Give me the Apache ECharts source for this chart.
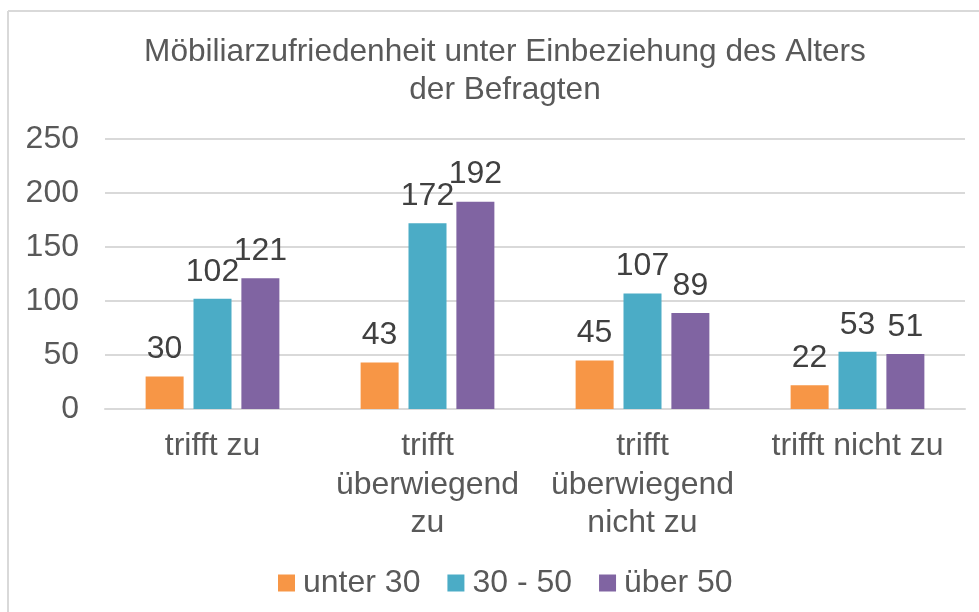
<!DOCTYPE html>
<html>
<head>
<meta charset="utf-8">
<script src="https://cdn.jsdelivr.net/npm/echarts@6/dist/echarts.min.js"></script>
<style>
  html, body { margin: 0; padding: 0; background: #ffffff; }
  #chart { width: 979px; height: 612px; }
</style>
</head>
<body>
<div id="chart"></div>
<script>
// Chart data
const titleText = 'Möbiliarzufriedenheit unter Einbeziehung des Alters\nder Befragten';
const categories = ['trifft zu', 'trifft\nüberwiegend\nzu', 'trifft\nüberwiegend\nnicht zu', 'trifft nicht zu'];
const seriesNames = ['unter 30', '30 - 50', 'über 50'];
const unter30 = [30, 43, 45, 22];
const mittel30bis50 = [102, 172, 107, 53];
const ueber50 = [121, 192, 89, 51];
const colors = ['#F79646', '#4BACC6', '#8064A2'];

const font = '"Liberation Sans", Arial, sans-serif';
const textGrey = '#595959';
const fs = 32;

function barSeries(name, data, color) {
  return {
    name: name,
    type: 'bar',
    data: data,
    barWidth: 38,
    barGap: '26%',
    itemStyle: { color: color },
    label: {
      show: true,
      position: 'top',
      distance: 11,
      color: '#404040',
      fontFamily: font,
      fontSize: fs
    }
  };
}

const chart = echarts.init(document.getElementById('chart'), null, { renderer: 'canvas' });
chart.setOption({
  animation: false,
  backgroundColor: '#ffffff',
  graphic: [
    // outer chart frame (top and left edges visible)
    { type: 'line', shape: { x1: 8, y1: 11, x2: 979, y2: 11 }, style: { stroke: '#d9d9d9', lineWidth: 2 } },
    { type: 'line', shape: { x1: 8, y1: 11, x2: 8, y2: 612 }, style: { stroke: '#d9d9d9', lineWidth: 2 } }
  ],
  title: {
    text: titleText,
    left: 500,
    textAlign: 'center',
    top: 28,
    textStyle: {
      fontFamily: font,
      fontSize: 31.6,
      fontWeight: 'normal',
      color: textGrey,
      lineHeight: 38
    }
  },
  legend: {
    data: seriesNames,
    bottom: 8,
    left: 273,
    itemWidth: 17,
    itemHeight: 17,
    itemGap: 27,
    icon: 'rect',
    textStyle: { fontFamily: font, fontSize: fs, color: textGrey, padding: [0, 0, 0, 3] }
  },
  grid: { left: 105, right: 14, top: 139, bottom: 203 },
  xAxis: {
    type: 'category',
    data: categories,
    axisTick: { show: false },
    axisLine: { lineStyle: { color: '#d9d9d9', width: 2 } },
    axisLabel: {
      fontFamily: font,
      fontSize: fs,
      color: textGrey,
      lineHeight: 38.5,
      margin: 18,
      interval: 0
    }
  },
  yAxis: {
    type: 'value',
    min: 0,
    max: 250,
    interval: 50,
    axisLine: { show: false },
    axisTick: { show: false },
    splitLine: { lineStyle: { color: '#d9d9d9', width: 2 } },
    axisLabel: { fontFamily: font, fontSize: fs, color: textGrey, margin: 26 }
  },
  series: [
    barSeries(seriesNames[0], unter30, colors[0]),
    barSeries(seriesNames[1], mittel30bis50, colors[1]),
    barSeries(seriesNames[2], ueber50, colors[2])
  ]
});
</script>
</body>
</html>
